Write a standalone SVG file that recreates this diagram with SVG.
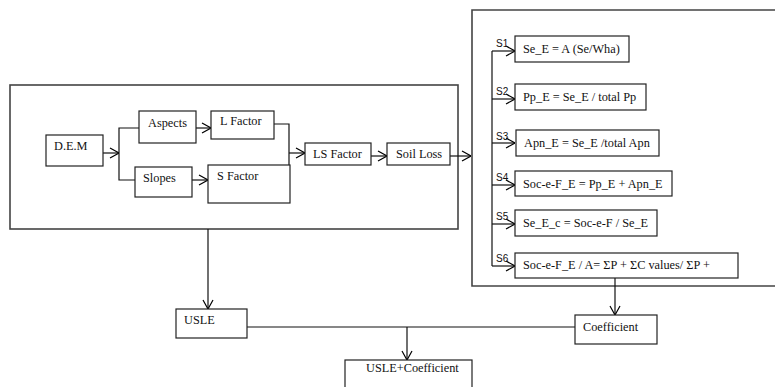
<svg xmlns="http://www.w3.org/2000/svg" width="775" height="387" viewBox="0 0 775 387">
<style>
.box{fill:#fff;stroke:#222;stroke-width:1.2}
.outer{fill:none;stroke:#444;stroke-width:1.6}
.t{font-family:'Liberation Serif','Times New Roman',serif;font-size:12.3px;fill:#111}
.s{font-family:'Liberation Sans','DejaVu Sans',sans-serif;font-size:10px;fill:#111}
.c{fill:none;stroke:#111;stroke-width:1.2}
</style>
<defs>
<marker id="arr" viewBox="0 0 10 12" refX="10" refY="6" markerWidth="10" markerHeight="12" markerUnits="userSpaceOnUse" orient="auto">
<path d="M1,1 L10,6 L1,11" fill="none" stroke="#000" stroke-width="1.2"/>
</marker>
</defs>
<rect width="775" height="387" fill="#fff"/>
<g id="left-panel"><rect class="outer" x="10" y="85" width="448" height="144"/></g>
<g id="right-panel"><path class="outer" d="M780,10 H472 V286 H780"/></g>

<g id="connectors">
<path class="c" d="M103,153 H119" marker-end="url(#arr)"/>
<path class="c" d="M139,128 H119 V180 H135"/>
<path class="c" d="M196,128 H211" marker-end="url(#arr)"/>
<path class="c" d="M192,180 H208" marker-end="url(#arr)"/>
<path class="c" d="M274,124 H289 V180 H290"/>
<path class="c" d="M289,153 H305" marker-end="url(#arr)"/>
<path class="c" d="M371,156 H387" marker-end="url(#arr)"/>
<path class="c" d="M450,156 H471" marker-end="url(#arr)"/>
<path class="c" d="M492,51 V266"/>
<path class="c" d="M492,51 H515" marker-end="url(#arr)"/>
<path class="c" d="M492,99 H515" marker-end="url(#arr)"/>
<path class="c" d="M492,143 H515" marker-end="url(#arr)"/>
<path class="c" d="M492,185 H515" marker-end="url(#arr)"/>
<path class="c" d="M492,224 H515" marker-end="url(#arr)"/>
<path class="c" d="M492,266 H515" marker-end="url(#arr)"/>
<path class="c" d="M615,278 V315" marker-end="url(#arr)"/>
<path class="c" d="M208,229 V309" marker-end="url(#arr)"/>
<path class="c" d="M247,327 H575"/>
<path class="c" d="M407,327 V360" marker-end="url(#arr)"/>
<text class="s" x="496" y="47">S1</text>
<text class="s" x="496" y="95">S2</text>
<text class="s" x="496" y="140">S3</text>
<text class="s" x="496" y="181">S4</text>
<text class="s" x="496" y="220">S5</text>
<text class="s" x="496" y="262">S6</text>
</g>

<g id="dem"><rect class="box" x="46" y="135" width="57" height="31"/><text class="t" x="54" y="150">D.E.M</text></g>
<g id="aspects"><rect class="box" x="139" y="111" width="57" height="32"/><text class="t" x="148" y="127">Aspects</text></g>
<g id="lfactor"><rect class="box" x="211" y="111" width="63" height="28"/><text class="t" x="220" y="125">L Factor</text></g>
<g id="slopes"><rect class="box" x="135" y="167" width="57" height="30"/><text class="t" x="143" y="182">Slopes</text></g>
<g id="sfactor"><rect class="box" x="208" y="165" width="82" height="38"/><text class="t" x="217" y="180">S Factor</text></g>
<g id="lsfactor"><rect class="box" x="305" y="143" width="66" height="22"/><text class="t" x="313" y="158">LS Factor</text></g>
<g id="soilloss"><rect class="box" x="387" y="143" width="63" height="22"/><text class="t" x="396" y="158">Soil Loss</text></g>

<g id="s1"><rect class="box" x="515" y="36" width="114" height="26"/><text class="t" x="523" y="53">Se_E = A (Se/Wha)</text></g>
<g id="s2"><rect class="box" x="515" y="84" width="131" height="26"/><text class="t" x="523" y="101">Pp_E = Se_E / total Pp</text></g>
<g id="s3"><rect class="box" x="516" y="130" width="143" height="26"/><text class="t" x="524" y="147">Apn_E = Se_E /total Apn</text></g>
<g id="s4"><rect class="box" x="515" y="171" width="157" height="25"/><text class="t" x="523" y="188">Soc-e-F_E = Pp_E + Apn_E</text></g>
<g id="s5"><rect class="box" x="515" y="210" width="142" height="26"/><text class="t" x="523" y="227">Se_E_c = Soc-e-F / Se_E</text></g>
<g id="s6"><rect class="box" x="515" y="253" width="223" height="25"/><text class="t" x="523" y="269">Soc-e-F_E / A= ΣP + ΣC values/ ΣP +</text></g>

<g id="usle"><rect class="box" x="176" y="309" width="71" height="29"/><text class="t" x="184" y="324">USLE</text></g>
<g id="coefficient"><rect class="box" x="575" y="315" width="82" height="29"/><text class="t" x="583" y="331">Coefficient</text></g>
<g id="usle-coefficient"><rect class="box" x="345" y="360" width="127" height="40"/><text class="t" x="366" y="372">USLE+Coefficient</text></g>
</svg>
